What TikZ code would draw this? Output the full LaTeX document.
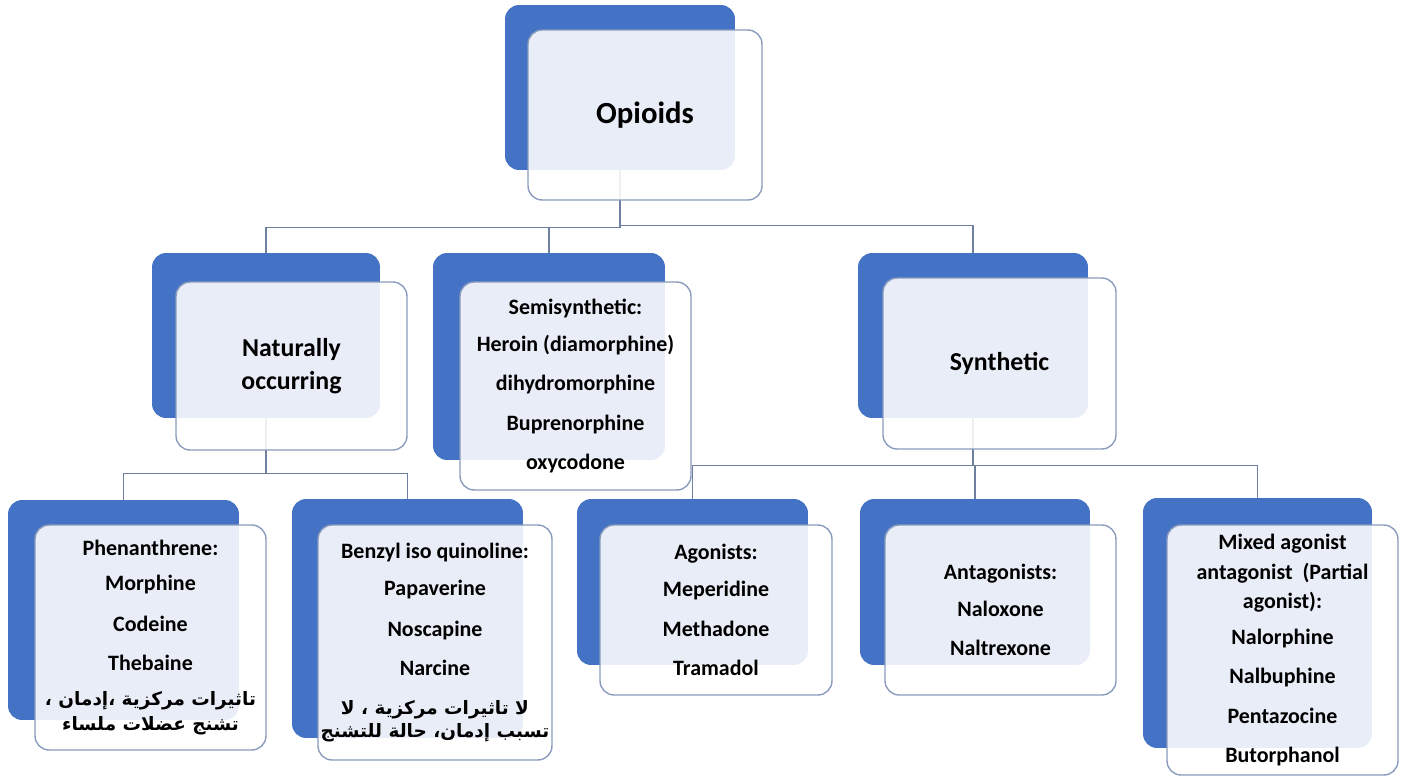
\documentclass[tikz,border=0pt]{standalone}
\usepackage{fontspec}
\setmainfont{Carlito}
\newfontfamily\arabicfont[Script=Arabic]{DejaVu Sans}
\TeXXeTstate=1
\usetikzlibrary{positioning, calc}
\definecolor{opblue}{HTML}{4472C4}
\definecolor{opframe}{HTML}{8A9BBD}
\definecolor{opline}{HTML}{6F7FA0}
\newcommand{\arline}[1]{{\arabicfont\fontsize{10.5}{13}\selectfont\beginR #1\endR}}

\begin{document}
\begin{tikzpicture}[
    x=0.02cm, y=-0.02cm,
    back/.style 2 args={rectangle, rounded corners=8pt, fill=opblue, draw=none,
                minimum width=#1, minimum height=#2, inner sep=0pt},
    front/.style 2 args={rectangle, rounded corners=8pt, fill=white, fill opacity=0.88,
                text opacity=1, draw=opframe, line width=0.8pt, minimum width=#1,
                minimum height=#2, inner sep=0pt, align=center, text=black,
                font=\fontsize{12.5}{17}\selectfont\bfseries},
    head/.style={font=\fontsize{14.7}{18.7}\selectfont\bfseries},
    branch/.style={draw=opline, line width=0.8pt}
]
    \useasboundingbox (0,0) rectangle (1410,778);
    % back boxes
    \node[back={4.6cm}{3.3cm}] (opB) at (620,87.5) {};
    \node[back={4.56cm}{3.3cm}] (natB) at (266,335.5) {};
    \node[back={4.64cm}{4.14cm}] (semiB) at (549,356.5) {};
    \node[back={4.6cm}{3.3cm}] (synB) at (973,335.5) {};
    \node[back={4.62cm}{4.4cm}] (phenB) at (123.5,610) {};
    \node[back={4.62cm}{4.78cm}] (benzB) at (407.5,618.5) {};
    \node[back={4.62cm}{3.32cm}] (agB) at (692.5,582) {};
    \node[back={4.6cm}{3.32cm}] (antB) at (975,582) {};
    \node[back={4.58cm}{5cm}] (mixB) at (1257.5,623) {};
    % connectors
    \draw[branch] (opB.south) -- ++(0,57) -| (natB.north);
    \draw[branch] (opB.south) ++(0,57) -| (semiB.north);
    \draw[branch] (opB.south) ++(0,55) -| (synB.north);
    \draw[branch] (natB.south) -- ++(0,55) -| (phenB.north);
    \draw[branch] (natB.south) ++(0,55) -| (benzB.north);
    \draw[branch] (synB.south) -- ++(0,47) -| (agB.north);
    \draw[branch] (synB.south) ++(0,47) -| (antB.north);
    \draw[branch] (synB.south) ++(0,47) -| (mixB.north);
    % front boxes
    \node[front={4.68cm}{3.4cm}, font=\fontsize{17.5}{21}\selectfont\bfseries] (opF) at (645,115) {Opioids};
    \node[front={4.62cm}{3.36cm}, head] (natF) at (291.5,366) {Naturally\\occurring};
    \node[front={4.62cm}{4.16cm}] (semiF) at (575.5,386) {Semisynthetic:\\[4pt]Heroin (diamorphine)\\[5.5pt]dihydromorphine\\[5.5pt]Buprenorphine\\[5.5pt]oxycodone};
    \node[front={4.66cm}{3.42cm}, head] (synF) at (999.5,363.5) {Synthetic};
    \node[front={4.62cm}{4.5cm}] (phenF) at (150.5,637.5) {Phenanthrene:\\[3pt]Morphine\\[6pt]Codeine\\[5.5pt]Thebaine\\[3pt]\arline{تاثيرات مركزية ،إدمان ،}\\[-3pt]\arline{تشنج عضلات ملساء}};
    \node[front={4.68cm}{4.7cm}] (benzF) at (435,642.5) {Benzyl iso quinoline:\\[4pt]Papaverine\\[6pt]Noscapine\\[5.5pt]Narcine\\[5pt]\arline{لا تاثيرات مركزية ، لا}\\[-4pt]\arline{تسبب إدمان، حالة للتشنج}};
    \node[front={4.64cm}{3.4cm}] (agF) at (716,610) {Agonists:\\[4pt]Meperidine\\[5.5pt]Methadone\\[5.5pt]Tramadol};
    \node[front={4.62cm}{3.4cm}] (antF) at (1000.5,610) {Antagonists:\\[4pt]Naloxone\\[5.5pt]Naltrexone};
    \node[front={4.62cm}{5cm}] (mixF) at (1282.5,650) {Mixed agonist\\antagonist~~(Partial\\agonist):\\[3pt]Nalorphine\\[5.5pt]Nalbuphine\\[5.5pt]Pentazocine\\[5.5pt]Butorphanol};
\end{tikzpicture}
\end{document}
